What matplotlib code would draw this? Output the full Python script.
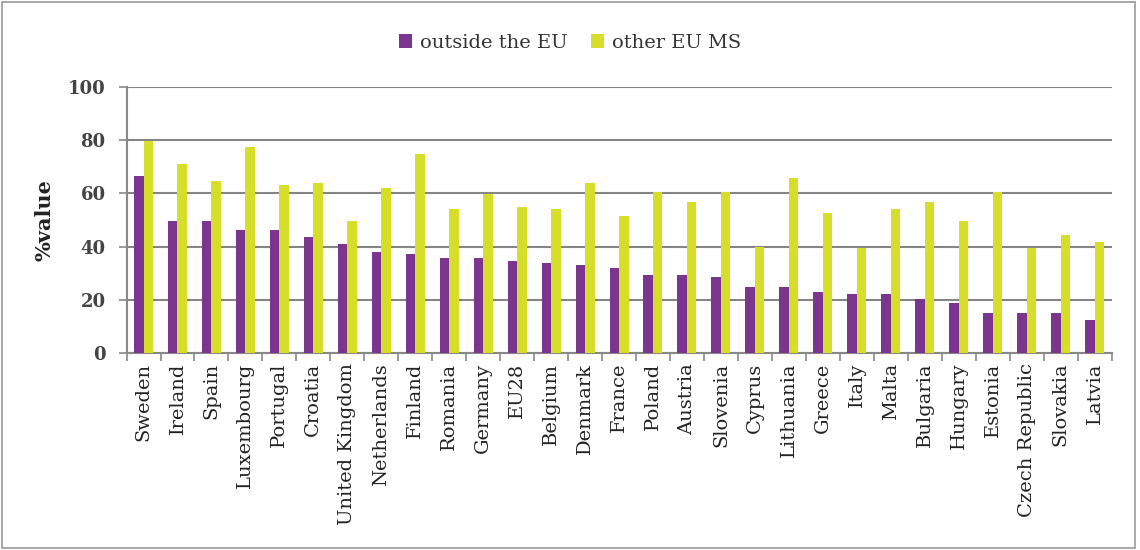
import numpy as np
import matplotlib.pyplot as plt
from matplotlib.patches import Rectangle

# dados
paises = ['Sweden', 'Ireland', 'Spain', 'Luxembourg', 'Portugal', 'Croatia',
          'United Kingdom', 'Netherlands', 'Finland', 'Romania', 'Germany', 'EU28',
          'Belgium', 'Denmark', 'France', 'Poland', 'Austria', 'Slovenia', 'Cyprus',
          'Lithuania', 'Greece', 'Italy', 'Malta', 'Bulgaria', 'Hungary', 'Estonia',
          'Czech Republic', 'Slovakia', 'Latvia']
fora_ue = [66.7, 49.7, 49.7, 46.2, 46.2, 43.5, 40.9, 38.1, 37.2, 35.6, 35.6, 34.7,
           33.8, 33.0, 32.1, 29.3, 29.3, 28.4, 24.9, 24.9, 23.0, 22.2, 22.2, 20.3,
           18.7, 15.2, 15.2, 15.2, 12.4]
outros_ue = [79.8, 71.0, 64.8, 77.3, 63.0, 64.0, 49.7, 62.1, 74.7, 54.1, 59.6, 55.0,
             54.1, 64.0, 51.5, 60.4, 56.9, 60.4, 40.0, 65.7, 52.5, 39.4, 54.1, 56.9,
             49.7, 60.4, 39.4, 44.4, 41.6]

plt.rcParams['font.family'] = ['DejaVu Serif']

fig = plt.figure(figsize=(11.4, 5.5), dpi=100)
ax = fig.add_axes([0.111, 0.358, 0.864, 0.484])

x = np.arange(len(paises))
w = 0.28
ax.bar(x - w / 2, fora_ue, w, color='#7B358F', label='outside the EU', zorder=3)
ax.bar(x + w / 2, outros_ue, w, color='#D6DE2A', label='other EU MS', zorder=3)

ax.set_xlim(-0.5, len(paises) - 0.5)
ax.set_ylim(0, 100)
ax.set_yticks(range(0, 101, 20))
ax.grid(axis='y', color='#858585', linewidth=1.5, zorder=0)

# ticks de categoria nas fronteiras
ax.set_xticks(x)
ax.set_xticklabels(paises, rotation=90, fontsize=14, color='#222222')
ax.set_xticks(np.arange(len(paises) + 1) - 0.5, minor=True)
ax.tick_params(axis='x', which='major', length=0, pad=7)
ax.tick_params(axis='x', which='minor', length=6, color='#888888', width=1.2)
ax.tick_params(axis='y', length=6, width=1.2, color='#888888', pad=9,
               labelsize=13, labelcolor='#444444')
for t in ax.get_yticklabels():
    t.set_fontweight('bold')

for s in ['top', 'right']:
    ax.spines[s].set_visible(False)
for s in ['left', 'bottom']:
    ax.spines[s].set_color('#888888')
    ax.spines[s].set_linewidth(1.5)

ax.set_ylabel('%value', fontsize=15, fontweight='bold', color='#222222', labelpad=10)

fig.legend(loc='center', bbox_to_anchor=(0.5, 0.922), ncol=2, frameon=False,
           fontsize=14, handlelength=0.7, handleheight=0.7, handletextpad=0.4,
           columnspacing=1.2, labelcolor='#333333')

# moldura externa
fig.patches.append(Rectangle((0.002, 0.004), 0.994, 0.992, transform=fig.transFigure,
                             fill=False, edgecolor='#999999', linewidth=1.2))

fig.savefig('out.png', dpi=100)
